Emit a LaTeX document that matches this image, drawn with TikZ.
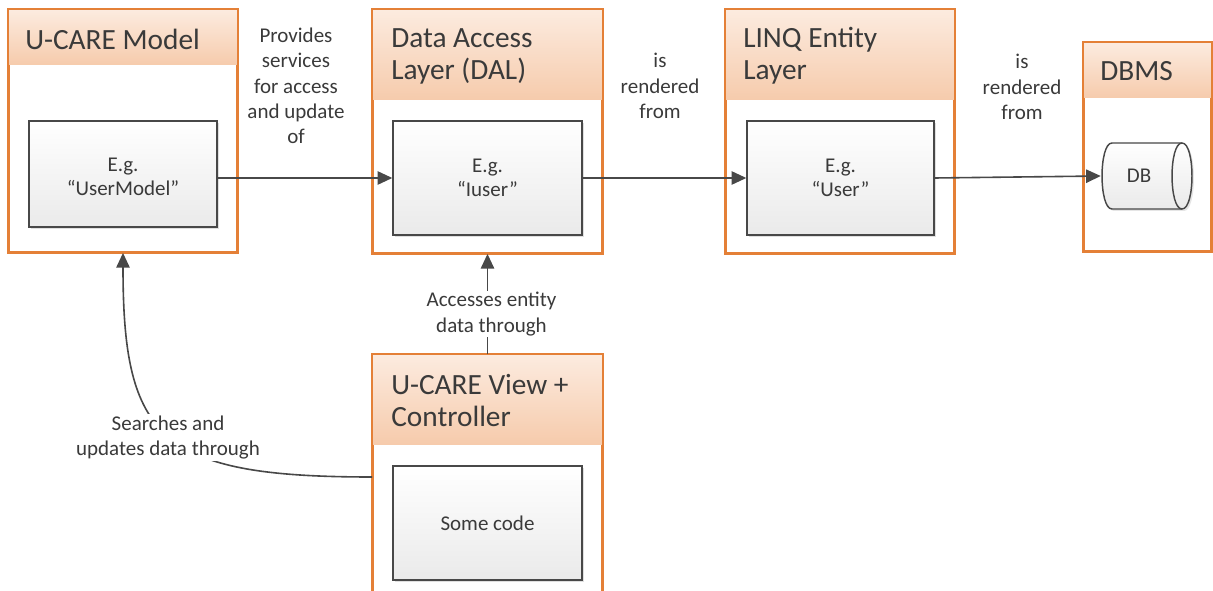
\documentclass[tikz,border=0pt]{standalone}
\usepackage{fontspec}
\setmainfont{Carlito}
\usetikzlibrary{arrows.meta,shadows,fit}
\definecolor{orng}{RGB}{228,128,55}
\definecolor{hdtop}{RGB}{252,235,223}
\definecolor{hdbot}{RGB}{246,203,172}
\definecolor{txt}{RGB}{58,58,58}
\definecolor{ln}{RGB}{72,72,72}
\definecolor{ibot}{RGB}{234,234,234}
\begin{document}
\begin{tikzpicture}[x=0.75pt,y=-0.75pt,
  layerbody/.style={fill=white, draw=orng, line width=1.4pt, inner sep=0pt,
    drop shadow={shadow xshift=1.5pt, shadow yshift=-1.5pt, opacity=0.18}},
  layerhead/.style={top color=hdtop, bottom color=hdbot, draw=none, inner sep=0pt},
  layerline/.style={draw=orng, line width=1.4pt},
  hdtext/.style={anchor=west, inner sep=0pt, align=left, text=txt,
    font=\fontsize{22}{24}\selectfont},
  itembox/.style={top color=white, bottom color=ibot, draw=ln, line width=1.1pt,
    inner sep=0pt,
    drop shadow={shadow xshift=1.8pt, shadow yshift=-1.8pt, opacity=0.25}},
  itemtext/.style={inner sep=0pt, align=center, text=txt,
    font=\fontsize{15.75}{18}\selectfont},
  lbl/.style={inner sep=1pt, align=center, text=txt, font=\fontsize{15.75}{19}\selectfont},
  conn/.style={draw=ln, line width=1.2pt, -{Triangle[length=11pt,width=10pt]}}
]
\useasboundingbox (0,0) rectangle (1213,591);
\clip (0,0) rectangle (1213,591);
\fill[white] (0,0) rectangle (1213,591);

% U-CARE Model
\node[layerbody, fit={(9,10) (237,252)}] (m) {};
\node[layerhead, fit={(9,10) (237,65)}] (mh) {};
\draw[layerline] (m.north west) rectangle (m.south east);
\node[hdtext] (mt) at (25,39) {U-CARE Model};
\node[itembox, fit={(29,121) (217,227)}] (mi) {};
\node[itemtext] (mit) at (123,177) {E.g.\\“UserModel”};

% DAL
\node[layerbody, fit={(373,10) (602,253)}] (d) {};
\node[layerhead, fit={(373,10) (602,100)}] (dh) {};
\draw[layerline] (d.north west) rectangle (d.south east);
\node[hdtext] (dt) at (391,56) {Data Access\\Layer (DAL)};
\node[itembox, fit={(393,121) (582,235)}] (di) {};
\node[itemtext] (dit) at (di.center) {E.g.\\“Iuser”};

% LINQ
\node[layerbody, fit={(726,10) (954,253)}] (l) {};
\node[layerhead, fit={(726,10) (954,100)}] (lh) {};
\draw[layerline] (l.north west) rectangle (l.south east);
\node[hdtext] (lt) at (743,56) {LINQ Entity\\Layer};
\node[itembox, fit={(747,121) (934,235)}] (li) {};
\node[itemtext] (lit) at (li.center) {E.g.\\“User”};

% DBMS
\node[layerbody, fit={(1084,43) (1211,251)}] (b) {};
\node[layerhead, fit={(1084,43) (1211,98)}] (bh) {};
\draw[layerline] (b.north west) rectangle (b.south east);
\node[hdtext] (bt) at (1100,71) {DBMS};
\shade[top color=white, bottom color=ibot, draw=ln, line width=1.1pt,
  drop shadow={shadow xshift=1.5pt, shadow yshift=-1.5pt, opacity=0.2}]
  (1112,143) -- (1182,143) .. controls (1195.3,143) and (1195.3,209) .. (1182,209)
  -- (1112,209) .. controls (1098.7,209) and (1098.7,143) .. (1112,143) -- cycle;
\draw[draw=ln, line width=1.1pt] (1182,143) .. controls (1168.7,143) and (1168.7,209) .. (1182,209);
\node[inner sep=0pt, minimum width=61.5pt, minimum height=49.5pt] (db) at (1142,176) {};
\node[lbl] (dbt) at (1139,176) {DB};

% U-CARE View + Controller
\node[layerbody, fit={(373,355) (602,599)}] (v) {};
\node[layerhead, fit={(373,355) (602,444)}] (vh) {};
\draw[layerline] (v.north west) rectangle (v.south east);
\node[hdtext] (vt) at (391,401) {U-CARE View +\\Controller};
\node[itembox, fit={(393,466) (582,580)}] (vi) {};
\node[itemtext] (vit) at (vi.center) {Some code};

% connectors
\draw[conn] (mi.east |- di.west) -- (di.west);
\node[lbl] (l1) at (296,86) {Provides\\services\\for access\\and update\\of};
\draw[conn] (di.east) -- (li.west);
\node[lbl] (l2) at (660,86) {is\\rendered\\from};
\draw[conn] (li.east) -- (db.west);
\node[lbl] (l3) at (1022,87) {is\\rendered\\from};
\draw[conn] (v.north) -- (d.south)
  node[lbl, fill=white, pos=0.4, xshift=3pt] (l4) {Accesses entity\\data through};
\draw[conn] (v.west) .. controls (160,477) and (123,439) .. (m.south)
  node[lbl, fill=white, pos=0.5, yshift=-2pt] (l5) {Searches and\\updates data through};
\end{tikzpicture}
\end{document}
